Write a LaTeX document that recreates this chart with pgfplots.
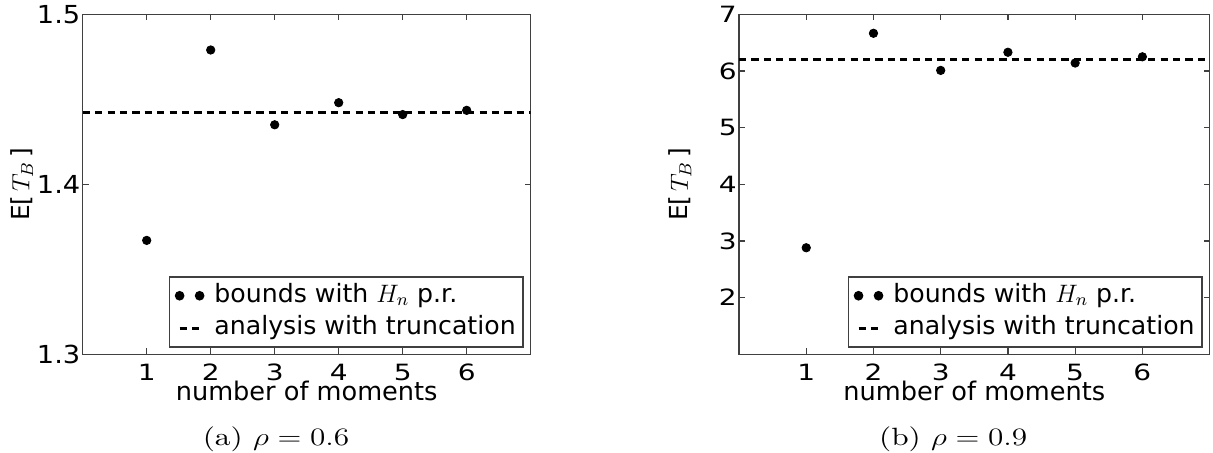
\RequirePackage{fix-cm}
\documentclass[border=0pt]{standalone}
\usepackage[no-math]{fontspec}
\newfontfamily\dv{DejaVu Sans}
\newfontfamily\lmr{lmroman10-regular.otf}
\usepackage{graphicx}
\usepackage{pgfplots}
\pgfplotsset{compat=1.18}
\newcommand{\fs}[1]{\fontsize{#1}{#1}\selectfont}

\pgfplotsset{
 common/.style={
  scale only axis, height=170pt, xmin=0, xmax=7, xtick={1,...,6},
  axis line style={black!75, line width=0.6pt},
  every tick/.style={black!75, line width=0.6pt},
  major tick length=3pt,
  tick align=inside,
  /pgf/number format/assume math mode=true,
  xticklabel={\scalebox{1.25}[1]{\pgfmathprintnumber{\tick}}},
  xticklabel style={font=\dv\fs{11.2}, inner sep=0pt, anchor=north, yshift=-4.5pt},
  yticklabel style={inner sep=0pt, anchor=east, xshift=-1pt},
  xlabel={number of moments},
  xlabel style={font=\dv\fs{12.8}, inner sep=0pt, at={(axis description cs:0.5,0)}, anchor=base, yshift=-23.35pt},
  ylabel={E[$\,T_B\,$]},
  legend style={at={(rel axis cs:1,0)}, anchor=south east, xshift=-3.5pt, yshift=3.3pt,
    draw=black!75, line width=0.6pt, font=\dv\fs{12.6}, inner xsep=2.7pt, inner ysep=2pt,
    row sep=1.7pt, column sep=4pt,
    nodes={inner xsep=1pt, inner ysep=1pt, text height=9.5pt, text depth=3.15pt}},
  legend cell align=left,
 },
 dots/.style={only marks, mark=*, mark size=2.1pt, black,
   legend image code/.code={\fill[black] (0pt,0pt) circle (2.1pt); \fill[black] (10pt,0pt) circle (2.1pt);}},
 dline/.style={black, line width=1.5pt, dash pattern=on 3.6pt off 2.6pt,
   legend image code/.code={\draw[black, line width=1.5pt, dash pattern=on 3.6pt off 2.6pt] (0pt,0pt) -- (9.8pt,0pt);}},
}

\begin{document}
\begin{tikzpicture}
\path[use as bounding box] (0,0) rectangle (606.5pt,226.5pt);
\begin{axis}[common, at={(41.35pt,49.35pt)}, anchor=south west, width=224pt,
  ymin=1.3, ymax=1.5, ytick={1.3,1.4,1.5},
  yticklabel={\scalebox{1.1}[1]{\pgfmathprintnumber[fixed,precision=1]{\tick}}},
  yticklabel style={font=\dv\fs{12.4}},
  every axis y label/.style={at={(axis description cs:-0.136,0.5)}, anchor=center, rotate=90, font=\dv\fs{12.4}},
]
\addplot[dots] coordinates {(1,1.367) (2,1.479) (3,1.435) (4,1.448) (5,1.441) (6,1.4435)};
\addlegendentry{bounds with $H_n$\ p.r.}
\addplot[dline] coordinates {(0,1.4422) (7,1.4422)};
\addlegendentry{analysis with truncation}
\end{axis}
\begin{axis}[common, at={(369.5pt,49.35pt)}, anchor=south west, width=235.3pt,
  ymin=1, ymax=7, ytick={2,...,7},
  yticklabel={\scalebox{1.25}[1]{\pgfmathprintnumber{\tick}}},
  yticklabel style={font=\dv\fs{11.2}},
  every axis y label/.style={at={(axis description cs:-0.125,0.5)}, anchor=center, rotate=90, font=\dv\fs{12.4}},
]
\addplot[dots] coordinates {(1,2.88) (2,6.665) (3,6.01) (4,6.33) (5,6.14) (6,6.25)};
\addlegendentry{bounds with $H_n$\ p.r.}
\addplot[dline] coordinates {(0,6.20) (7,6.20)};
\addlegendentry{analysis with truncation}
\end{axis}
\node[anchor=base, inner sep=0pt, font=\lmr\fs{12.5}] at (138pt,3.75pt) {\scalebox{1.25}[1]{(a) $\rho=0.6$}};
\node[anchor=base, inner sep=0pt, font=\lmr\fs{12.5}] at (476.6pt,3.75pt) {\scalebox{1.25}[1]{(b) $\rho=0.9$}};
\end{tikzpicture}
\end{document}
